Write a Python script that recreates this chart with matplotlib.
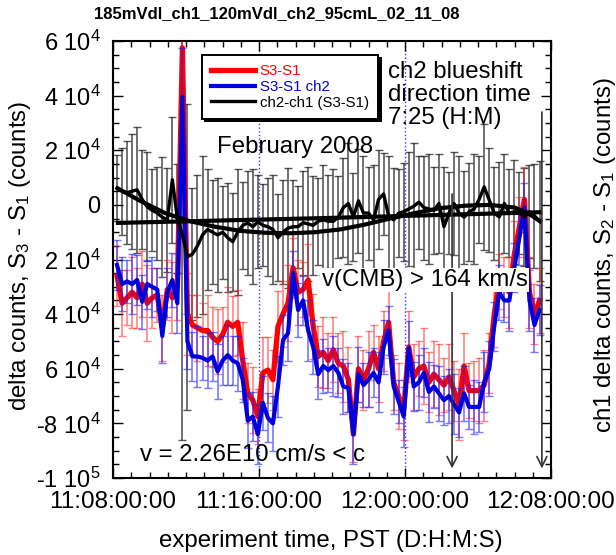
import numpy as np
import matplotlib
matplotlib.use("Agg")
import matplotlib.pyplot as plt
from matplotlib.ticker import MultipleLocator, FixedLocator, FixedFormatter

plt.rcParams['font.family'] = ['Liberation Sans', 'DejaVu Sans']
plt.rcParams['mathtext.fontset'] = 'custom'
plt.rcParams['mathtext.rm'] = 'Liberation Sans'
plt.rcParams['mathtext.it'] = 'Liberation Sans:italic'

# --- data (counts in units of 1e4, time in minutes from 11:08) ---
t_start = 0.22
t_step = 0.2756

red_s3s1 = [-2.6, -3.6, -3.4, -3.2, -3.4, -2.9, -3.6, -3.4, -3.3, -4.5,
            -3.1, -3.4, -3.0, 5.75, -4.0, -4.4, -4.5, -4.6, -4.6, -4.85,
            -5.0, -4.75, -4.3, -4.45, -4.3, -5.7, -6.9, -7.15, -7.75, -6.15,
            -6.05, -6.4, -4.45, -4.0, -3.6, -2.3, -3.2, -3.1, -2.75, -4.45,
            -5.55, -5.4, -5.7, -5.3, -5.8, -5.9, -6.4, -8.4, -6.0, -6.4,
            -6.0, -5.4, -6.0, -5.0, -4.3, -6.5, -7.0, -7.5, -5.2, -6.3,
            -6.0, -5.9, -6.5, -6.2, -6.4, -6.6, -6.3, -6.8, -7.3, -5.9,
            -6.8, -6.8, -6.8, -6.6, -5.8, -4.0, -2.8, -3.0, -3.2, -1.8,
            -0.8, 0.2, -3.2, -4.0, -3.5]
red_err = [1.1, 1.2, 1.0, 1.3, 1.1, 1.2, 1.4, 1.1, 1.0, 1.2,
           1.1, 1.3, 1.2, 2.2, 1.5, 1.1, 1.2, 1.0, 1.3, 1.1,
           1.2, 1.0, 1.3, 1.1, 1.2, 1.4, 1.1, 1.2, 1.0, 1.3,
           1.2, 1.1, 1.3, 1.2, 1.4, 1.1, 1.2, 1.0, 1.3, 1.2,
           1.1, 1.3, 1.0, 1.2, 1.1, 1.3, 1.2, 1.0, 1.2, 1.1,
           1.4, 1.0, 1.2, 1.1, 1.3, 1.0, 1.2, 1.1, 1.3, 1.2,
           1.0, 1.4, 1.1, 1.2, 1.3, 1.0, 1.2, 1.1, 1.3, 1.2,
           1.0, 1.1, 1.2, 1.3, 1.1, 1.2, 1.0, 1.1, 1.3, 1.2,
           1.1, 1.2, 1.3, 1.1, 1.2]

blue_s3s1_ch2 = [-2.2, -2.9, -2.8, -2.9, -2.75, -3.55, -2.9, -3.0, -3.1, -4.8,
                 -3.2, -2.75, -3.6, 3.96, -5.0, -5.55, -5.55, -5.6, -5.7, -5.55,
                 -6.1, -5.7, -5.5, -5.7, -5.8, -6.4, -7.9, -7.75, -8.4, -7.25,
                 -7.8, -8.0, -6.65, -4.95, -4.7, -2.5, -3.85, -3.5, -4.6, -5.2,
                 -6.2, -5.9, -6.05, -5.9, -6.15, -6.65, -6.7, -8.4, -6.2, -6.6,
                 -6.4, -6.15, -6.5, -5.2, -4.6, -6.65, -7.2, -7.75, -5.25, -6.65,
                 -6.5, -6.15, -6.85, -6.65, -6.9, -7.15, -7.0, -7.3, -7.6, -6.9,
                 -7.4, -7.4, -7.4, -6.5, -6.0, -4.45, -3.2, -3.5, -3.5, -2.3,
                 -1.2, -0.1, -3.5, -4.4, -3.85]
blue_err = [0.9, 1.0, 0.8, 1.1, 0.9, 1.0, 0.9, 1.1, 0.8, 1.0,
            0.9, 1.0, 1.1, 1.8, 1.0, 0.9, 1.1, 0.8, 1.0, 0.9,
            1.0, 0.9, 1.1, 0.9, 1.0, 0.8, 1.0, 0.9, 1.1, 1.0,
            0.9, 1.0, 1.1, 0.9, 1.0, 0.8, 1.0, 0.9, 1.1, 1.0,
            0.9, 1.0, 0.8, 1.1, 0.9, 1.0, 0.9, 1.1, 1.0, 0.8,
            1.0, 0.9, 1.1, 1.0, 0.9, 1.0, 0.8, 1.1, 1.0, 0.9,
            1.0, 0.9, 1.1, 0.8, 1.0, 0.9, 1.0, 1.1, 0.9, 1.0,
            0.8, 1.0, 0.9, 1.1, 1.0, 0.9, 1.0, 0.8, 1.1, 0.9,
            1.0, 0.9, 1.1, 1.0, 0.9]

black_ch2_ch1 = [0.62, 0.5, 0.45, 0.5, 0.55, 0.2, -0.07, -0.2, -0.3, -0.45,
                 -0.55, 0.92, -0.5, -1.1, -1.9, -1.8, -1.5, -1.1, -0.9, -1.0,
                 -1.1, -1.0, -1.2, -1.35, -1.0, -0.75, -0.66, -0.8, -0.62, -0.75,
                 -0.8, -0.9, -1.2, -1.0, -0.85, -0.8, -0.8, -0.65, -0.7, -0.75,
                 -0.6, -0.55, -0.6, -0.6, -0.45, -0.1, 0.05, -0.44, 0.15, -0.3,
                 -0.3, -0.55, 0.2, 0.4, -0.4, -0.55, -0.3, -0.25, -0.15, -0.05,
                 0.1, -0.1, -0.15, -0.2, 0.05, -0.8, -0.3, 0.05, -0.3, -0.45,
                 -0.25, -0.15, 0.2, 0.66, 0.18, -0.3, -0.44, 0.05, -0.3, -0.25,
                 -0.3, -0.44, -0.25, -0.4, -0.6]
black_err = [1.2, 1.6, 1.9, 2.1, 2.3, 1.8, 2.0, 1.5, 1.7, 2.2,
             1.9, 2.3, 2.0, 7.5, 5.6, 2.4, 2.6, 2.9, 2.2, 1.9,
             2.1, 1.7, 2.0, 1.8, 2.3, 1.6, 1.9, 2.1, 1.7, 1.5,
             1.8, 2.0, 1.6, 1.9, 2.2, 1.7, 1.5, 1.9, 2.1, 1.8,
             1.6, 2.0, 1.7, 1.9, 1.5, 1.8, 2.2, 1.6, 1.9, 2.1,
             1.7, 2.0, 1.8, 1.5, 2.2, 1.9, 1.6, 1.8, 2.1, 2.3,
             1.7, 1.9, 2.0, 1.6, 1.8, 2.2, 1.5, 1.9, 2.1, 1.7,
             1.8, 2.0, 1.6, 2.3, 1.9, 1.7, 2.0, 1.8, 1.6, 1.9,
             1.5, 1.8, 1.7, 1.9, 2.2]

# smooth fits drawn through the ch2-ch1 data
fit_curve_t = [0.27, 1.48, 2.85, 4.22, 5.59, 6.96, 8.33, 9.70, 11.07, 12.44,
               13.81, 15.18, 16.55, 17.92, 19.29, 20.66, 22.03, 22.85, 23.40]
fit_curve_v = [0.6, 0.15, -0.3, -0.6, -0.8, -0.95, -1.02, -1.04, -1.0, -0.9,
               -0.72, -0.5, -0.3, -0.12, -0.03, 0.0, -0.1, -0.35, -0.6]
fit_flat_t = [0.27, 11.8, 23.4]
fit_flat_v = [-0.66, -0.48, -0.27]

x_tick_vals = [0, 8, 16, 24]
x_tick_labels = ['11:08:00:00', '11:16:00:00', '12:00:00:00', '12:08:00:00']
y_tick_vals = [6, 4, 2, 0, -2, -4, -6, -8, -10]
y_tick_labels = ['6 10$^4$', '4 10$^4$', '2 10$^4$', '0', '2 10$^4$',
                 '4 10$^4$', '6 10$^4$', '-8 10$^4$', '-1 10$^5$']

arrow_t = [18.58, 23.5]
arrow_top = [0.5, 3.5]

scale = 1e4
n = len(red_s3s1)
t = t_start + t_step * np.arange(n)
big = 17.3

fig = plt.figure(figsize=(6.16, 5.55), dpi=100)
ax = fig.add_axes([113 / 616, 1 - 478 / 555, 438 / 616, 437 / 555])

# blue dotted vertical grid at the major ticks
for xv in (8, 16):
    ax.axvline(xv, color='#3030ff', ls=':', lw=1.0, zorder=1)

# black error bars and data
ax.errorbar(t, np.array(black_ch2_ch1) * scale, yerr=np.array(black_err) * scale,
            fmt='none', ecolor='#222222', elinewidth=1.2, capsize=3, capthick=1.0,
            alpha=0.75, zorder=2)

# red
ax.errorbar(t, np.array(red_s3s1) * scale, yerr=np.array(red_err) * scale,
            fmt='none', ecolor='#ff2020', elinewidth=1.2, capsize=3, capthick=1.0,
            alpha=0.55, zorder=3)
ax.plot(t, np.array(red_s3s1) * scale, color='#ff0000', lw=3.8, zorder=4,
        label='S3-S1')

# blue
ax.errorbar(t, np.array(blue_s3s1_ch2) * scale, yerr=np.array(blue_err) * scale,
            fmt='none', ecolor='#2020ff', elinewidth=1.2, capsize=3, capthick=1.0,
            alpha=0.6, zorder=5)
ax.plot(t, np.array(blue_s3s1_ch2) * scale, color='#0000dd', lw=3.0, zorder=6,
        label='S3-S1 ch2')

ax.plot(t, np.array(black_ch2_ch1) * scale, color='black', lw=2.4, zorder=7,
        label='ch2-ch1 (S3-S1)')
ax.plot(fit_curve_t, np.array(fit_curve_v) * scale, color='black', lw=3.0, zorder=7)
ax.plot(fit_flat_t, np.array(fit_flat_v) * scale, color='black', lw=3.0, zorder=7)

# arrows
for xa, ya in zip(arrow_t, arrow_top):
    ax.annotate('', xy=(xa, -9.75e4), xytext=(xa, ya * scale),
                arrowprops=dict(arrowstyle='->', color='#333333', lw=1.2,
                                mutation_scale=18), zorder=8)

ax.set_xlim(0, 24)
ax.set_ylim(-1e5, 6e4)

ax.xaxis.set_major_locator(FixedLocator(x_tick_vals))
ax.xaxis.set_major_formatter(FixedFormatter(x_tick_labels))
ax.xaxis.set_minor_locator(MultipleLocator(1))
ax.yaxis.set_major_locator(FixedLocator([v * scale for v in y_tick_vals]))
ax.yaxis.set_major_formatter(FixedFormatter(y_tick_labels))
ax.yaxis.set_minor_locator(MultipleLocator(5000))
ax.tick_params(which='both', direction='in', top=True, right=True, width=1.0)
ax.tick_params(which='major', length=7)
ax.tick_params(which='minor', length=4)
ax.tick_params(axis='y', labelsize=17, pad=9)
ax.tick_params(axis='x', labelsize=17.5, pad=9)
for sp in ax.spines.values():
    sp.set_linewidth(1.5)

fig.text(331 / 616, 1 - 541 / 555, 'experiment time, PST (D:H:M:S)',
         ha='center', va='center', fontsize=big)
fig.text(20 / 616, 1 - 256 / 555, 'delta counts, S$_3$ - S$_1$ (counts)',
         rotation=90, ha='center', va='center', fontsize=big)
fig.text(605 / 616, 1 - 255 / 555, 'ch1 delta counts, S$_2$ - S$_1$ (counts)',
         rotation=90, ha='center', va='center', fontsize=big)
fig.text(277 / 616, 1 - 14 / 555, '185mVdl_ch1_120mVdl_ch2_95cmL_02_11_08',
         ha='center', va='center', fontsize=12, fontweight='bold')

leg = ax.legend(loc='upper left', bbox_to_anchor=(0.2032, 0.968), borderaxespad=0,
                fontsize=10.8, frameon=True, fancybox=False, handlelength=2.9,
                borderpad=0.6, labelspacing=0.12, handletextpad=0.35,
                shadow={'color': 'black', 'alpha': 1.0})
leg.get_frame().set_edgecolor('black')
leg.get_frame().set_linewidth(1.4)
for txt, col in zip(leg.get_texts(), ['#ff0000', '#0000dd', 'black']):
    txt.set_color(col)
leg.set_zorder(20)

fig.text(388 / 616, 1 - 95 / 555, 'ch2 blueshift\ndirection time\n7:25 (H:M)',
         fontsize=big, va='center', ha='left', linespacing=1.03)
ax.text(0.237, 0.757, 'February 2008', transform=ax.transAxes, fontsize=big,
        ha='left', va='center')
ax.text(0.477, 0.453, 'v(CMB) > 164 km/s', transform=ax.transAxes, fontsize=big,
        ha='left', va='center', zorder=15,
        bbox=dict(facecolor='white', edgecolor='none', pad=1.0))
ax.text(0.062, 0.053, 'v = 2.26E10 cm/s < c', transform=ax.transAxes, fontsize=big,
        ha='left', va='center', zorder=15)

fig.savefig('out.png', dpi=100)
